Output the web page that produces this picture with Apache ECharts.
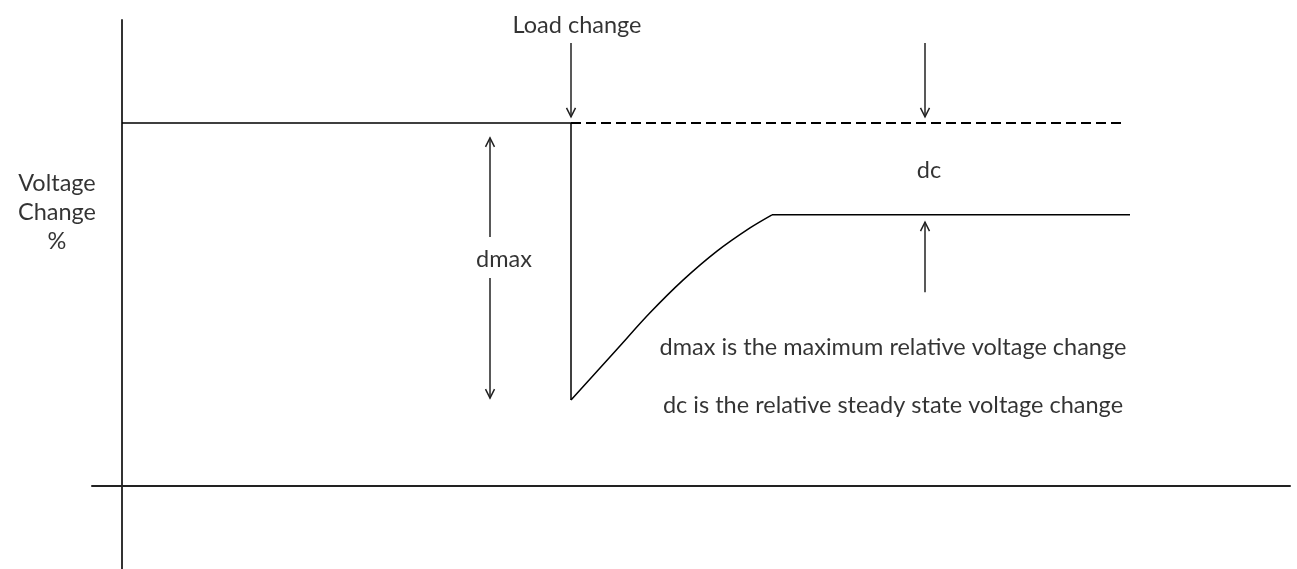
<!DOCTYPE html>
<html>
<head>
<meta charset="utf-8">
<script src="https://cdn.jsdelivr.net/npm/echarts@6/dist/echarts.min.js"></script>
<style>
  html, body { margin: 0; padding: 0; background: #fff; }
  #chart { width: 1297px; height: 569px; }
</style>
</head>
<body>
<div id="chart"></div>
<script>
// voltage before the load change and the drop (time, voltage %)
const dropT = [0, 44.9, 44.9];
const dropV = [100, 100, 23.7];

// recovery after the drop
const recoveryT = [44.9, 49.5, 52.8, 56.1, 59.5, 62.8, 65];
const recoveryV = [23.7, 37.7, 47.7, 56.7, 64.7, 71.1, 74.7];

// new steady level
const steadyT = [65, 100.8];
const steadyV = [74.7, 74.7];

// nominal level continued after the load change (dashed)
const nominalT = [44.9, 100.1];
const nominalV = [100, 100];

// arrows: x, start level, head level
const arrowX    = [44.9, 80.3, 80.3, 36.8, 36.8];
const arrowFrom = [122, 122, 53.4, 68.6, 57.3];
const arrowTo   = [101.7, 101.7, 72.7, 95.9, 24.2];

// annotations
const labelText = ['Voltage\nChange\n%', 'Load change', 'dc', 'dmax',
  'dmax is the maximum relative voltage change',
  'dc is the relative steady state voltage change'];
const labelX = [-6.5, 45.5, 80.7, 38.2, 77.1, 77.1];
const labelY = [75.5, 127, 87, 62.3, 38.2, 22.3];

const chart = echarts.init(document.getElementById('chart'));

const solid = { color: '#000', width: 1.5 };

const option = {
  animation: false,
  backgroundColor: '#fff',
  grid: { left: 92, right: 7, top: 20, bottom: 0 },
  xAxis: {
    type: 'value',
    min: -3,
    max: 116.8,
    axisLine: { onZero: true, lineStyle: { color: '#222', width: 2 } },
    axisTick: { show: false },
    axisLabel: { show: false },
    splitLine: { show: false }
  },
  yAxis: {
    type: 'value',
    min: -22.865,
    max: 128.37,
    axisLine: { show: true, onZero: true, lineStyle: { color: '#333', width: 2 } },
    axisTick: { show: false },
    axisLabel: { show: false },
    splitLine: { show: false }
  },
  series: [
    {
      type: 'line',
      data: dropT.map((t, i) => [t, dropV[i]]),
      symbol: 'none',
      lineStyle: solid
    },
    {
      type: 'line',
      data: recoveryT.map((t, i) => [t, recoveryV[i]]),
      symbol: 'none',
      smooth: 0.3,
      lineStyle: solid
    },
    {
      type: 'line',
      data: steadyT.map((t, i) => [t, steadyV[i]]),
      symbol: 'none',
      lineStyle: solid
    },
    {
      type: 'line',
      data: nominalT.map((t, i) => [t, nominalV[i]]),
      symbol: 'none',
      lineStyle: { color: '#000', width: 2, type: [10, 5] }
    },
    {
      type: 'custom',
      data: arrowX.map((x, i) => [x, arrowFrom[i], arrowTo[i]]),
      encode: { x: 0, y: [1, 2] },
      renderItem: function (params, api) {
        const x = api.value(0);
        const a = api.coord([x, api.value(1)]);
        const b = api.coord([x, api.value(2)]);
        const dir = b[1] > a[1] ? 1 : -1;
        return {
          type: 'group',
          children: [
            {
              type: 'line',
              shape: { x1: a[0], y1: a[1], x2: b[0], y2: b[1] },
              style: { stroke: '#222', lineWidth: 1.5 }
            },
            {
              type: 'polyline',
              shape: { points: [[b[0] - 4.5, b[1] - dir * 9], [b[0], b[1]], [b[0] + 4.5, b[1] - dir * 9]] },
              style: { stroke: '#222', lineWidth: 1.5, fill: null }
            }
          ]
        };
      }
    },
    {
      type: 'scatter',
      clip: false,
      symbolSize: 0,
      data: labelText.map((s, i) => ({ name: s, value: [labelX[i], labelY[i]] })),
      label: {
        show: true,
        position: 'inside',
        formatter: p => p.name,
        color: '#000',
        fontFamily: 'Lato',
        fontSize: 23.5,
        lineHeight: 29,
        align: 'center',
        verticalAlign: 'middle'
      }
    }
  ]
};

chart.setOption(option);
</script>
</body>
</html>
